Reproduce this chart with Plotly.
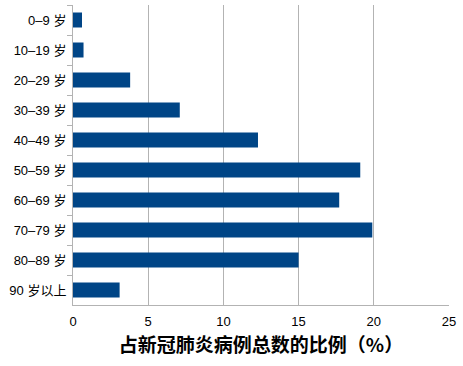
import plotly.graph_objects as go

categories = ["0–9 岁", "10–19 岁", "20–29 岁", "30–39 岁", "40–49 岁",
              "50–59 岁", "60–69 岁", "70–79 岁", "80–89 岁", "90 岁以上"]
values = [0.6, 0.7, 3.8, 7.1, 12.3, 19.1, 17.7, 19.9, 15.0, 3.1]
x_ticks = [0, 5, 10, 15, 20, 25]
x_title = "占新冠肺炎病例总数的比例（%）"

font_family = "Liberation Sans, Noto Sans CJK SC, sans-serif"

fig = go.Figure(go.Bar(
    x=values, y=categories, orientation="h",
    marker=dict(color="#004586", line=dict(width=0)),
    width=0.5,
))

fig.update_layout(
    width=463, height=366,
    margin=dict(l=73, r=14, t=5, b=61),
    paper_bgcolor="white", plot_bgcolor="white",
    font=dict(family=font_family, size=13, color="#000000"),
    showlegend=False,
    bargap=0.5,
)
fig.update_xaxes(
    range=[0, 25], tickvals=x_ticks, showgrid=True, gridcolor="#b3b3b3", gridwidth=1,
    showline=True, linecolor="#b3b3b3", linewidth=1,
    ticks="", zeroline=False, automargin=False, ticklabelstandoff=4,
    title=dict(text="<b>" + x_title + "</b>", font=dict(size=19, family="Noto Sans CJK SC, sans-serif"), standoff=11),
)
fig.update_yaxes(
    autorange="reversed", showline=True, linecolor="#b3b3b3", linewidth=1,
    ticks="outside", ticklen=5, tickcolor="#b3b3b3", tickson="boundaries",
    showgrid=False, automargin=False, ticklabelstandoff=3,
)
fig.write_html("out.html", config={"displayModeBar": False},
               post_script="document.body.style.margin='0';document.body.style.overflow='hidden';")
